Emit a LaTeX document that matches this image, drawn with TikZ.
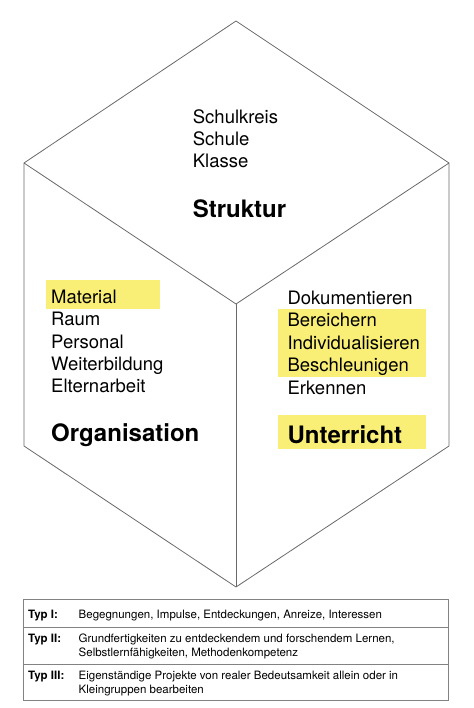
\documentclass[tikz,border=0pt]{standalone}
\usepackage{fontspec}
\setmainfont{TeX Gyre Heros}
\definecolor{hl}{RGB}{249,238,118}
\definecolor{edgegray}{RGB}{105,105,105}
\definecolor{tablegray}{RGB}{130,130,130}
\begin{document}
\begin{tikzpicture}[x=1pt,y=-1pt,
  item/.style={anchor=base west, inner sep=0pt, font=\fontsize{18.5}{22}\selectfont},
  head/.style={anchor=base west, inner sep=0pt, font=\fontsize{24}{28}\selectfont\bfseries},
  cell/.style={anchor=base west, inner sep=0pt, font=\fontsize{11.5}{14}\selectfont},
  lab/.style={anchor=base west, inner sep=0pt, font=\fontsize{11.5}{14}\selectfont\bfseries},
  edgeline/.style={draw=edgegray, line width=0.8pt, line join=miter},
  tableline/.style={draw=tablegray, line width=0.8pt}
]
\useasboundingbox (0,0) rectangle (473,708);
% highlights
\fill[hl] (46,280) rectangle (160.3,308.7);
\fill[hl] (278,309) rectangle (426,377);
\fill[hl] (278,415) rectangle (426,449);
% cube
\coordinate (T) at (236,21);
\coordinate (UL) at (24,163);
\coordinate (UR) at (449,163);
\coordinate (C) at (236,304);
\coordinate (LL) at (24,446);
\coordinate (LR) at (449,446);
\coordinate (B) at (236,587);
\draw[edgeline] (UL) -- (T) -- (UR) -- (LR) -- (B) -- (LL) -- cycle;
\draw[edgeline] (UL) -- (C) -- (UR);
\draw[edgeline] (C) -- (B);
% top face
\node[item] (s1) at (192.7,123.3) {Schulkreis};
\node[item] (s2) at (192.7,145.7) {Schule};
\node[item] (s3) at (192.7,168) {Klasse};
\node[head] (sh) at (192.7,217.3) {Struktur};
% left face
\node[item] (o1) at (51,303.3) {Material};
\node[item] (o2) at (51,325.7) {Raum};
\node[item] (o3) at (51,348) {Personal};
\node[item] (o4) at (51,370.5) {Weiterbildung};
\node[item] (o5) at (51,392.8) {Elternarbeit};
\node[head] (oh) at (51,441.7) {Organisation};
% right face
\node[item] (u1) at (287.3,304.3) {Dokumentieren};
\node[item] (u2) at (287.3,326.7) {Bereichern};
\node[item] (u3) at (287.3,349) {Individualisieren};
\node[item] (u4) at (287.3,371.3) {Beschleunigen};
\node[item] (u5) at (287.3,394) {Erkennen};
\node[head] (uh) at (287.3,443.3) {Unterricht};
% table
\draw[tableline] (23.5,599) rectangle (448.5,700);
\draw[tableline] (23.5,627.5) -- (448.5,627.5);
\draw[tableline] (23.5,664.5) -- (448.5,664.5);
\node[lab] (t1) at (28,618) {Typ I:};
\node[cell] (d1) at (78.5,618) {Begegnungen, Impulse, Entdeckungen, Anreize, Interessen};
\node[lab] (t2) at (28,642) {Typ II:};
\node[cell] (d2a) at (78.5,642) {Grundfertigkeiten zu entdeckendem und forschendem Lernen,};
\node[cell] (d2b) at (78.5,656.5) {Selbstlernfähigkeiten, Methodenkompetenz};
\node[lab] (t3) at (28,679) {Typ III:};
\node[cell] (d3a) at (78.5,679) {Eigenständige Projekte von realer Bedeutsamkeit allein oder in};
\node[cell] (d3b) at (78.5,693.5) {Kleingruppen bearbeiten};
\end{tikzpicture}
\end{document}
